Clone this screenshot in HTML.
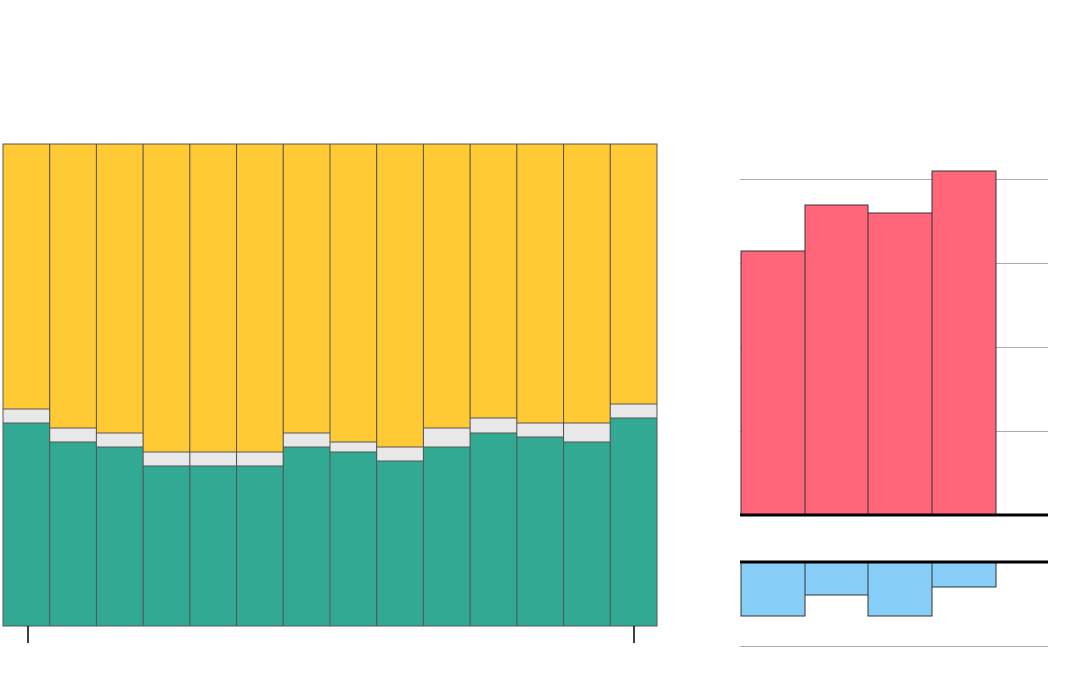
<!DOCTYPE html>
<html><head><meta charset="utf-8"><style>html,body{margin:0;padding:0;background:#fff;}svg{display:block}</style></head>
<body>
<svg width="1080" height="674" xmlns="http://www.w3.org/2000/svg">
<g id="left" stroke="#555" stroke-width="1"></g>
<line x1="28" y1="626" x2="28" y2="643" stroke="#000" stroke-width="1.5"/>
<line x1="634" y1="626" x2="634" y2="643" stroke="#000" stroke-width="1.5"/>
<g stroke="#aaa" stroke-width="1">
<line x1="740" y1="179.5" x2="1048" y2="179.5"/>
<line x1="740" y1="263.5" x2="1048" y2="263.5"/>
<line x1="740" y1="347.5" x2="1048" y2="347.5"/>
<line x1="740" y1="431.5" x2="1048" y2="431.5"/>
<line x1="740" y1="646.5" x2="1048" y2="646.5"/>
</g>
<g fill="#ff6679" stroke="#333" stroke-width="1">
<rect x="741" y="251" width="64" height="264"/>
<rect x="805" y="205" width="63" height="310"/>
<rect x="868" y="213" width="64" height="302"/>
<rect x="932" y="171" width="64" height="344"/>
</g>
<g fill="#87cef8" stroke="#333" stroke-width="1">
<rect x="741" y="562" width="64" height="54"/>
<rect x="805" y="562" width="63" height="33"/>
<rect x="868" y="562" width="64" height="54"/>
<rect x="932" y="562" width="64" height="25"/>
</g>
<line x1="740" y1="515" x2="1048" y2="515" stroke="#000" stroke-width="3"/>
<line x1="740" y1="562" x2="1048" y2="562" stroke="#000" stroke-width="3"/>
</svg>
<script>
var d=[[409,423],[428,442],[433,447],[452,466],[452,466],[452,466],[433,447],[442,452],[447,461],[428,447],[418,433],[423,437],[423,442],[404,418]];
var g=document.getElementById('left'),ns="http://www.w3.org/2000/svg",w=654/14,s='';
d.forEach(function(v,i){var x=3+i*w;
s+='<rect x="'+x+'" y="144" width="'+w+'" height="'+(v[0]-144)+'" fill="#ffca33"/>';
s+='<rect x="'+x+'" y="'+v[0]+'" width="'+w+'" height="'+(v[1]-v[0])+'" fill="#e8e8e8"/>';
s+='<rect x="'+x+'" y="'+v[1]+'" width="'+w+'" height="'+(626-v[1])+'" fill="#31a993"/>';});
g.innerHTML=s;
</script>
</body></html>
